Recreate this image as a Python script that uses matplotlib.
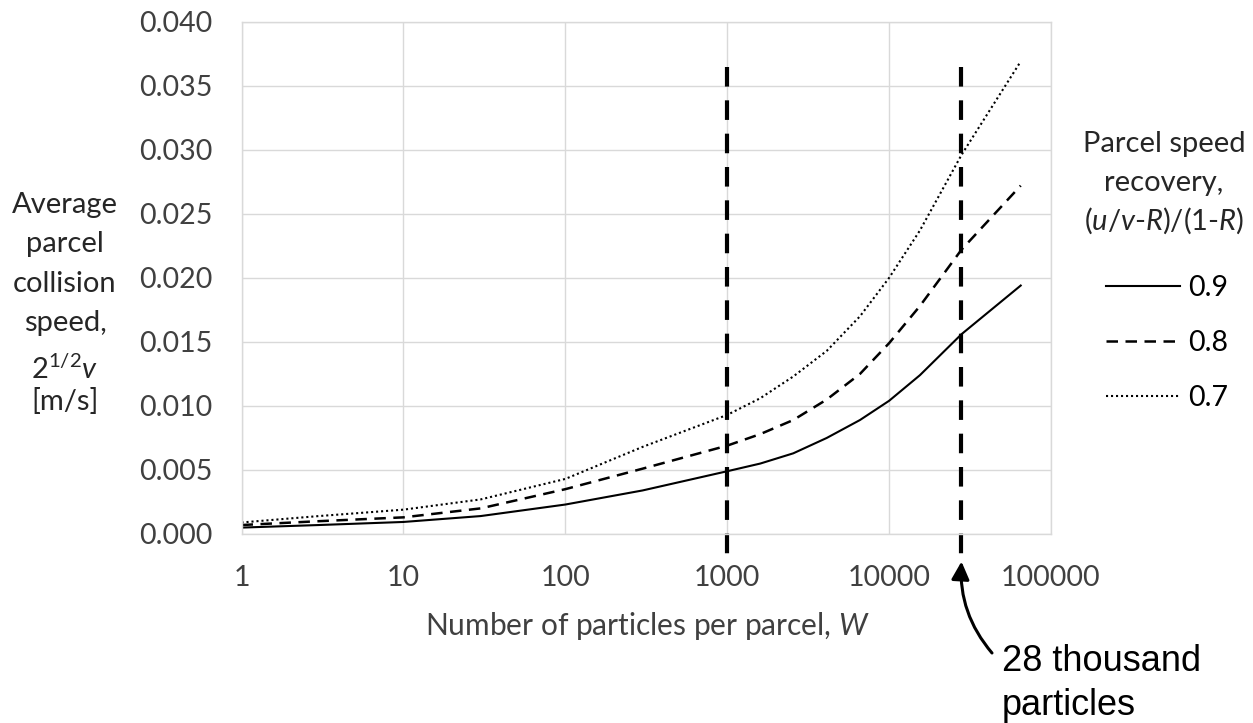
import matplotlib
matplotlib.use("Agg")
import matplotlib.pyplot as plt
from matplotlib.ticker import NullLocator
from matplotlib.patches import ArrowStyle

plt.rcParams["font.family"] = ["Lato", "DejaVu Sans"]
plt.rcParams["mathtext.fontset"] = "custom"
plt.rcParams["mathtext.rm"] = "Lato"
plt.rcParams["mathtext.it"] = "Lato:italic"
plt.rcParams["mathtext.default"] = "regular"

# Number of particles per parcel
W = [1, 3, 10, 30, 100, 300, 1000, 1600, 2560, 4120, 6610, 10000,
     15500, 28000, 65000]

# Average parcel collision speed [m/s] for each parcel speed recovery
speed_09 = [0.0005, 0.0007, 0.00094, 0.0014, 0.0023, 0.0034, 0.0049,
            0.0055, 0.0063, 0.0075, 0.0089, 0.0104, 0.0124, 0.0156, 0.0194]
speed_08 = [0.0007, 0.0010, 0.0013, 0.0020, 0.0035, 0.0051, 0.0069,
            0.0078, 0.0089, 0.0105, 0.0125, 0.0149, 0.0178, 0.0222, 0.0272]
speed_07 = [0.0009, 0.0014, 0.0019, 0.0027, 0.0043, 0.0068, 0.0093,
            0.0106, 0.0123, 0.0143, 0.0170, 0.0200, 0.0237, 0.0296, 0.0369]
recovery_labels = ["0.9", "0.8", "0.7"]

# Reference parcel sizes marked with vertical lines
marker_W = [1000, 28000]

x_ticks = [1, 10, 100, 1000, 10000, 100000]
x_tick_labels = ["1", "10", "100", "1000", "10000", "100000"]
y_ticks = [0.000, 0.005, 0.010, 0.015, 0.020, 0.025, 0.030, 0.035, 0.040]
y_tick_labels = ["0.000", "0.005", "0.010", "0.015", "0.020",
                 "0.025", "0.030", "0.035", "0.040"]

W_PX, H_PX = 1253, 723


def fx(px):
    return px / W_PX


def fy(py):
    return 1 - py / H_PX


fig = plt.figure(figsize=(W_PX / 100, H_PX / 100), dpi=100)
ax = fig.add_axes([fx(241.5), fy(534), fx(1051) - fx(241.5), fy(21.7) - fy(534)])

ax.set_xscale("log")
ax.set_xlim(1, 100000)
ax.set_ylim(0, 0.040)
ax.set_xticks(x_ticks)
ax.set_xticklabels(x_tick_labels)
ax.xaxis.set_minor_locator(NullLocator())
ax.set_yticks(y_ticks)
ax.set_yticklabels(y_tick_labels)
ax.tick_params(axis="both", length=0, labelsize=20.5, labelcolor="#404040")
ax.tick_params(axis="x", pad=22.5)
ax.tick_params(axis="y", pad=21)

grid_col = "#d9d9d9"
ax.grid(True, color=grid_col, lw=1.0)
ax.set_axisbelow(True)
for sp in ax.spines.values():
    sp.set_color(grid_col)
    sp.set_linewidth(1.0)

styles = [("-", 1.5), ((0, (4.6, 3.0)), 1.8), ((0, (1, 1.4)), 1.5)]
for vals, lab, (ls, lw) in zip([speed_09, speed_08, speed_07], recovery_labels, styles):
    ax.plot(W, vals, color="black", lw=lw, ls=ls, label=lab)

# Vertical reference lines, running just past the x axis
for w in marker_W:
    ax.plot([w, w], [0.0365, -0.00174], color="black", lw=3,
            ls=(0, (4.7, 3.3)), clip_on=False)

# Axis titles
fig.text(fx(647), fy(635), "Number of particles per parcel, $\\mathit{W}$",
         ha="center", va="baseline", size=21.5, color="#404040")

ylab_lines = ["Average", "parcel", "collision", "speed,",
              "$2^{1/2}\\mathit{v}$", "[m/s]"]
ylab_base = [213, 252, 292, 331, 379, 410]
for txt, yb in zip(ylab_lines, ylab_base):
    fig.text(fx(65), fy(yb), txt, ha="center", va="baseline", size=21,
             color="#262626")

# Legend title and entries
title_lines = ["Parcel speed", "recovery,",
               "($\\mathit{u}$/$\\mathit{v}$-$\\mathit{R}$)/(1-$\\mathit{R}$)"]
title_base = [152, 191, 230]
for txt, yb in zip(title_lines, title_base):
    fig.text(fx(1164), fy(yb), txt, ha="center", va="baseline", size=21,
             color="#262626")

ax.legend(loc="upper left", bbox_to_anchor=(fx(1106), fy(275)),
          bbox_transform=fig.transFigure, frameon=False, fontsize=20.5,
          handlelength=2.6, handletextpad=0.3, labelspacing=1.02,
          borderpad=0, borderaxespad=0)

# Callout for the larger reference parcel size
ax.annotate("", xy=(28000, -0.00215), xycoords="data",
            xytext=(fx(992), fy(653)), textcoords="figure fraction",
            arrowprops=dict(arrowstyle=ArrowStyle("-|>", head_length=0.4, head_width=0.2),
                            color="black", lw=2.2, mutation_scale=27,
                            connectionstyle="arc3,rad=-0.2",
                            shrinkA=0, shrinkB=0),
            annotation_clip=False)
fig.text(fx(1002), fy(671), "28 thousand", family=["Liberation Sans"],
         size=26, ha="left", va="baseline", color="black")
fig.text(fx(1002), fy(715), "particles", family=["Liberation Sans"],
         size=26, ha="left", va="baseline", color="black")

fig.savefig("out.png", dpi=100)
